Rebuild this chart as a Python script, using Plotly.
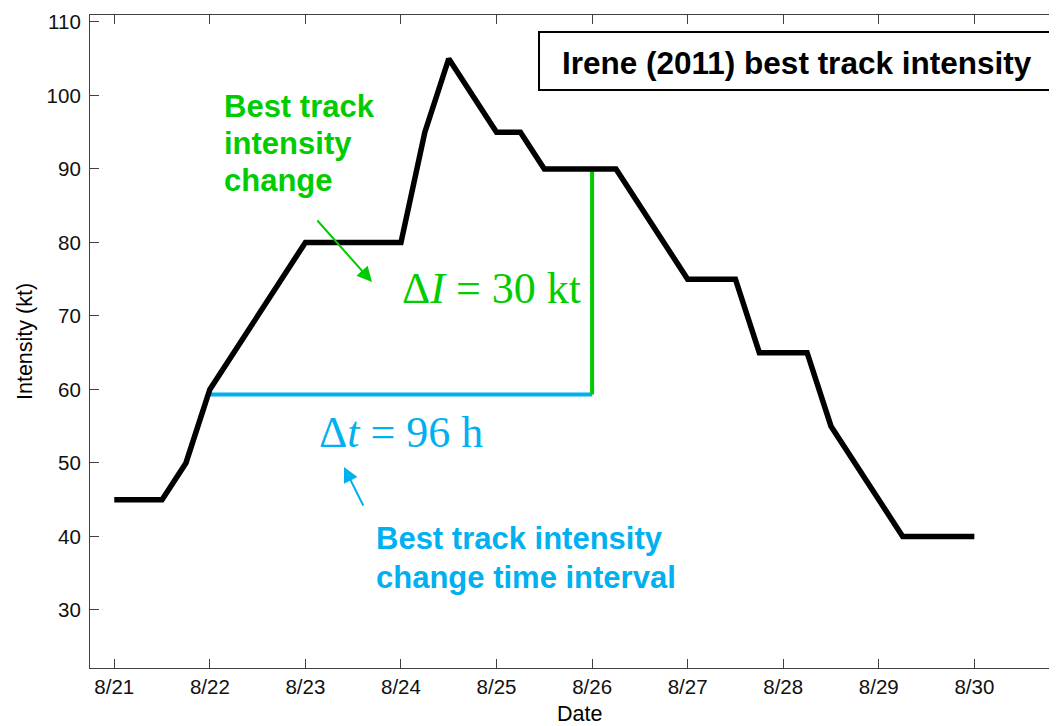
import plotly.graph_objects as go

# ---- data (August 2011, day-of-month, 6-hourly) ----
times = [21.0, 21.25, 21.5, 21.75, 22.0, 22.25, 22.5, 22.75, 23.0, 23.25, 23.5, 23.75,
         24.0, 24.25, 24.5, 24.75, 25.0, 25.25, 25.5, 25.75, 26.0, 26.25, 26.5, 26.75,
         27.0, 27.25, 27.5, 27.75, 28.0, 28.25, 28.5, 28.75, 29.0, 29.25, 29.5, 29.75, 30.0]
intensity = [45, 45, 45, 50, 60, 65, 70, 75, 80, 80, 80, 80,
             80, 95, 105, 100, 95, 95, 90, 90, 90, 90, 85, 80,
             75, 75, 75, 65, 65, 65, 55, 50, 45, 40, 40, 40, 40]

tick_vals = [21, 22, 23, 24, 25, 26, 27, 28, 29, 30]
tick_text = ["8/21", "8/22", "8/23", "8/24", "8/25", "8/26", "8/27", "8/28", "8/29", "8/30"]
y_ticks = [30, 40, 50, 60, 70, 80, 90, 100, 110]

dt_start, dt_end = 22.0, 26.0      # 96 h interval
dI_low, dI_high = 59.3, 90.0       # intensity change bar

GREEN = "#00CC00"
BLUE = "#00B0F0"
SANS = "Liberation Sans, Arial, sans-serif"
SERIF = "Liberation Serif, Times New Roman, serif"

# the page body has an 8px margin; size the figure so it fills the window exactly
OFF = 8
SW, SH = 1057, 726                 # screen size
W, H = SW - OFF, SH - OFF
# plot area in screen pixels
PL, PR, PT, PB = 90, 1057, 15, 668
L, R, T, B = PL - OFF, SW - PR, PT - OFF, SH - PB


def px(x):
    return (x - PL) / (PR - PL)


def py(y):
    return (PB - y) / (PB - PT)


fig = go.Figure()

fig.add_trace(go.Scatter(x=[dt_start, dt_end], y=[dI_low, dI_low], mode="lines",
                         line=dict(color=BLUE, width=4), hoverinfo="skip"))
fig.add_trace(go.Scatter(x=[dt_end, dt_end], y=[dI_low, dI_high], mode="lines",
                         line=dict(color=GREEN, width=4), hoverinfo="skip"))
fig.add_trace(go.Scatter(x=times, y=intensity, mode="lines",
                         line=dict(color="black", width=5.5)))

ann = []


def txt(text, x, y, size, color, family=SANS, anchor="left", angle=0):
    ann.append(dict(text=text, x=px(x), y=py(y), xref="paper", yref="paper",
                    xanchor=anchor, yanchor="middle", showarrow=False, textangle=angle,
                    font=dict(family=family, size=size, color=color)))


# title box
txt("<b>Irene (2011) best track intensity</b>", 560, 63, 31.5, "black")
# green labels
txt("<b>Best track</b>", 222, 106, 31, GREEN)
txt("<b>intensity</b>", 222, 143, 31, GREEN)
txt("<b>change</b>", 222, 180, 31, GREEN)
txt("Δ<i>I</i> = 30 kt", 400, 288, 44, GREEN, family=SERIF)
# blue labels
txt("Δ<i>t</i> = 96 h", 317, 432, 44, BLUE, family=SERIF)
txt("<b>Best track intensity</b>", 374, 538, 31, BLUE)
txt("<b>change time interval</b>", 374, 577, 31, BLUE)
# axis titles
txt("Intensity (kt)", 25, 342, 21.5, "black", anchor="center", angle=-90)
txt("Date", 579, 714, 21.5, "black", anchor="center")

# arrows
ann.append(dict(text="", x=px(372), y=py(282), xref="paper", yref="paper",
                ax=-56, ay=-63, showarrow=True, arrowhead=2, arrowsize=1.5,
                arrowwidth=2, arrowcolor=GREEN))
ann.append(dict(text="", x=px(344), y=py(467), xref="paper", yref="paper",
                ax=20, ay=40, showarrow=True, arrowhead=2, arrowsize=1.5,
                arrowwidth=2, arrowcolor=BLUE))

fig.update_layout(
    width=W, height=H,
    margin=dict(l=L, r=R, t=T, b=B, pad=0),
    paper_bgcolor="white", plot_bgcolor="white",
    showlegend=False,
    annotations=ann,
    shapes=[dict(type="rect", xref="paper", yref="paper",
                 x0=px(539), x1=px(1052), y0=py(90), y1=py(32),
                 line=dict(color="black", width=2), fillcolor="white", layer="below")],
    xaxis=dict(range=[20.746, 30.865], tickvals=tick_vals, ticktext=tick_text,
               showgrid=False, zeroline=False, showline=True, linecolor="#404040",
               linewidth=1.2, mirror="ticks", ticks="inside", ticklen=9,
               tickcolor="#404040", tickfont=dict(family=SANS, size=20.5, color="#111")),
    yaxis=dict(range=[22.1, 110.95], tickvals=y_ticks,
               showgrid=False, zeroline=False, showline=True, linecolor="#404040",
               linewidth=1.2, mirror=False, ticks="inside", ticklen=9,
               ticklabelstandoff=4,
               tickcolor="#404040", tickfont=dict(family=SANS, size=20.5, color="#111")),
)

fig.write_html("out.html")
